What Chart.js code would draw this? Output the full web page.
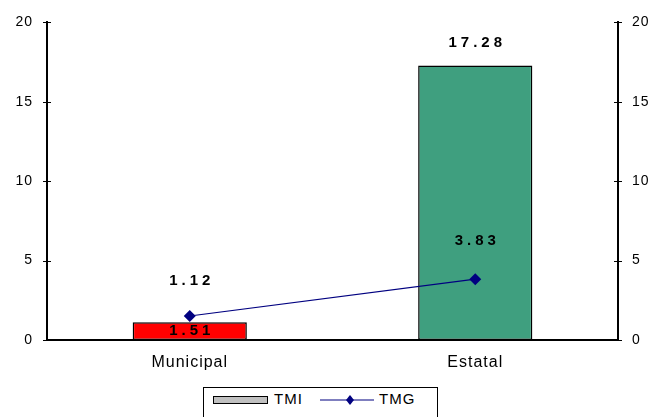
<!DOCTYPE html>
<html>
<head>
<meta charset="utf-8">
<script src="https://cdn.jsdelivr.net/npm/chart.js@4"></script>
<style>
  html, body { margin: 0; padding: 0; background: #fff; }
  #wrap { position: relative; width: 657px; height: 417px; overflow: hidden; }
  #legend { position: absolute; left: 203px; top: 387px; width: 233px; height: 40px; border: 1px solid #000; background: #fff;
            font-family: "Liberation Sans", Arial, sans-serif; font-size: 15px; letter-spacing: 1px; color: #000; }
  #legend .sw { position: absolute; left: 9px; top: 8px; width: 53px; height: 6px; background: #c0c0c0; border: 1px solid #000; }
  #legend .t1 { position: absolute; left: 70px; top: 2px; }
  #legend svg { position: absolute; left: 116px; top: 6px; }
  #legend .t2 { position: absolute; left: 175px; top: 2px; }
</style>
</head>
<body>
<div id="wrap">
  <canvas id="c" width="657" height="417"></canvas>
  <div id="legend">
    <span class="sw"></span><span class="t1">TMI</span>
    <svg width="56" height="12"><line x1="0" y1="6" x2="54" y2="6" stroke="#000080" stroke-width="1.2"/><polygon points="30,1 34,6 30,11 26,6" fill="#000080"/></svg>
    <span class="t2">TMG</span>
  </div>
</div>
<script>
const categories = ['Municipal', 'Estatal'];
const tmi = [1.12, 17.28];
const tmg = [1.51, 3.83];
const yTicks = [0, 5, 10, 15, 20];

const labelFont = 'bold 15px "Liberation Sans", Arial, sans-serif';

// Excel put the Municipal labels in odd places, keep that
const valueLabels = {
    id: 'valueLabels',
    afterDatasetsDraw(chart, args, opts) {
        const ctx = chart.ctx;
        ctx.save();
        ctx.font = labelFont;
        ctx.fillStyle = '#000';
        ctx.textAlign = 'center';
        ctx.textBaseline = 'middle';
        ctx.letterSpacing = '4px';
        chart.data.datasets.forEach((ds, di) => {
            const meta = chart.getDatasetMeta(di);
            meta.data.forEach((el, i) => {
                const dy = opts.offsets[di][i];
                ctx.fillText(ds.data[i].toFixed(2), el.x + 2, el.y + dy);
            });
        });
        ctx.restore();
    }
};

const crossTicks = {
    id: 'crossTicks',
    beforeDraw(chart) {
        chart.ctx.letterSpacing = '1px';
    },
    afterDraw(chart) {
        const ctx = chart.ctx;
        ctx.save();
        ctx.strokeStyle = '#000';
        ctx.lineWidth = 1;
        ['y', 'y2'].forEach(id => {
            const s = chart.scales[id];
            const x = id === 'y' ? chart.chartArea.left : chart.chartArea.right;
            yTicks.forEach(v => {
                const py = Math.round(s.getPixelForValue(v)) + 0.5;
                ctx.beginPath();
                ctx.moveTo(x - 4, py);
                ctx.lineTo(x + 4, py);
                ctx.stroke();
            });
        });
        ctx.restore();
    }
};

const tickFont = { family: '"Liberation Sans", Arial, sans-serif', size: 14 };

new Chart(document.getElementById('c'), {
    data: {
        labels: categories,
        datasets: [
            {
                type: 'line',
                label: 'TMG',
                data: tmg,
                borderColor: '#000080',
                backgroundColor: '#000080',
                borderWidth: 1.2,
                pointStyle: 'rectRot',
                pointRadius: 6,
                pointBorderWidth: 0,
                order: 0
            },
            {
                type: 'bar',
                label: 'TMI',
                data: tmi,
                backgroundColor: ['#ff0000', '#3f9f7f'],
                borderColor: '#000',
                borderWidth: 1.5,
                borderSkipped: false,
                barPercentage: 0.4,
                categoryPercentage: 1,
                order: 1
            }
        ]
    },
    options: {
        responsive: false,
        animation: false,
        layout: { padding: { top: 21, left: 0, right: 0, bottom: 0 } },
        plugins: {
            legend: { display: false },
            tooltip: { enabled: false },
            valueLabels: { offsets: [[15, -38], [-41, -23]] }
        },
        scales: {
            x: {
                grid: { display: false, drawTicks: false },
                border: { color: '#000', width: 2 },
                ticks: { color: '#000', font: { family: tickFont.family, size: 16 }, padding: 13 },
                afterFit(s) { s.height = 77; }
            },
            y: {
                position: 'left',
                min: 0, max: 20,
                afterBuildTicks(s) { s.ticks = yTicks.map(v => ({ value: v })); },
                grid: { display: false, drawTicks: false },
                border: { color: '#000', width: 2 },
                ticks: { color: '#000', font: tickFont, padding: 14 },
                afterFit(s) { s.width = 47; }
            },
            y2: {
                position: 'right',
                min: 0, max: 20,
                afterBuildTicks(s) { s.ticks = yTicks.map(v => ({ value: v })); },
                grid: { display: false, drawTicks: false },
                border: { color: '#000', width: 2 },
                ticks: { color: '#000', font: tickFont, padding: 14 },
                afterFit(s) { s.width = 39; }
            }
        }
    },
    plugins: [valueLabels, crossTicks]
});
</script>
</body>
</html>
